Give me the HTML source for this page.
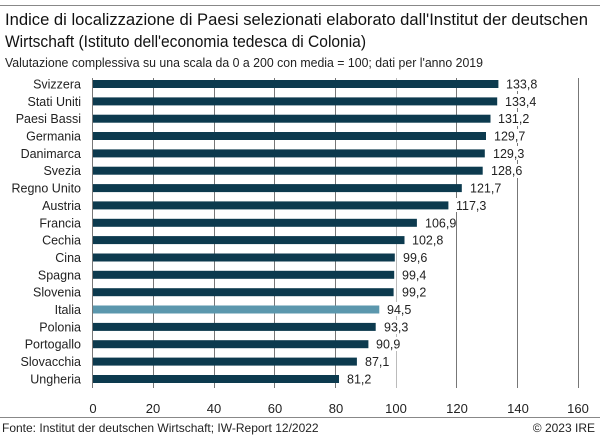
<!DOCTYPE html>
<html><head><meta charset="utf-8"><style>
html,body{margin:0;padding:0;background:#fff}
svg{display:block;font-family:"Liberation Sans",sans-serif}
</style></head><body>
<svg width="600" height="443" viewBox="0 0 600 443" xmlns="http://www.w3.org/2000/svg">
<rect width="600" height="443" fill="#fff"/>
<line x1="0" y1="5.5" x2="600" y2="5.5" stroke="#888" stroke-width="1"/>
<text x="5" y="25" font-size="17" fill="#111" textLength="583" lengthAdjust="spacingAndGlyphs">Indice di localizzazione di Paesi selezionati elaborato dall'Institut der deutschen</text>
<text x="5" y="47" font-size="17" fill="#111" textLength="361" lengthAdjust="spacingAndGlyphs">Wirtschaft (Istituto dell'economia tedesca di Colonia)</text>
<text x="5" y="67" font-size="13" fill="#222" textLength="478" lengthAdjust="spacingAndGlyphs">Valutazione complessiva su una scala da 0 a 200 con media = 100; dati per l'anno 2019</text>
<g stroke="#777" stroke-width="1">
<line x1="92.5" y1="78" x2="92.5" y2="388"/>
<line x1="153.5" y1="78" x2="153.5" y2="388"/>
<line x1="214.5" y1="78" x2="214.5" y2="388"/>
<line x1="274.5" y1="78" x2="274.5" y2="388"/>
<line x1="335.5" y1="78" x2="335.5" y2="388"/>
<line x1="396.5" y1="78" x2="396.5" y2="388" stroke="#bbb"/>
<line x1="456.5" y1="78" x2="456.5" y2="388"/>
<line x1="517.5" y1="78" x2="517.5" y2="388"/>
<line x1="578.5" y1="78" x2="578.5" y2="388"/>
</g>
<g font-size="12.5" fill="#222" text-anchor="end">
<text x="81" y="88.5">Svizzera</text>
<text x="81" y="106">Stati Uniti</text>
<text x="81" y="123">Paesi Bassi</text>
<text x="81" y="140.5">Germania</text>
<text x="81" y="158">Danimarca</text>
<text x="81" y="175">Svezia</text>
<text x="81" y="192.5">Regno Unito</text>
<text x="81" y="210">Austria</text>
<text x="81" y="227.5">Francia</text>
<text x="81" y="244.5">Cechia</text>
<text x="81" y="262">Cina</text>
<text x="81" y="279.5">Spagna</text>
<text x="81" y="296.5">Slovenia</text>
<text x="81" y="314">Italia</text>
<text x="81" y="331.5">Polonia</text>
<text x="81" y="348.5">Portogallo</text>
<text x="81" y="366">Slovacchia</text>
<text x="81" y="383.5">Ungheria</text>
</g>
<g fill="#0c3a4e">
<rect x="93" y="80" width="405.4" height="8"/>
<rect x="93" y="97.4" width="404.2" height="8"/>
<rect x="93" y="114.7" width="397.5" height="8"/>
<rect x="93" y="132" width="393" height="8"/>
<rect x="93" y="149.4" width="391.8" height="8"/>
<rect x="93" y="166.7" width="389.7" height="8"/>
<rect x="93" y="184.1" width="368.8" height="8"/>
<rect x="93" y="201.4" width="355.4" height="8"/>
<rect x="93" y="218.8" width="323.9" height="8"/>
<rect x="93" y="236.1" width="311.5" height="8"/>
<rect x="93" y="253.5" width="301.8" height="8"/>
<rect x="93" y="270.8" width="301.2" height="8"/>
<rect x="93" y="288.2" width="300.6" height="8"/>
<rect x="93" y="305.5" width="286.3" height="8" fill="#5b97ad"/>
<rect x="93" y="322.9" width="282.7" height="8"/>
<rect x="93" y="340.2" width="275.4" height="8"/>
<rect x="93" y="357.6" width="263.9" height="8"/>
<rect x="93" y="375" width="246" height="8"/>
</g>
<g fill="#fff">
<rect x="501" y="77" width="34" height="14"/>
<rect x="500" y="94" width="34" height="14"/>
<rect x="493" y="112" width="34" height="14"/>
<rect x="489" y="129" width="34" height="14"/>
<rect x="488" y="146" width="34" height="14"/>
<rect x="486" y="164" width="34" height="14"/>
<rect x="465" y="181" width="34" height="14"/>
<rect x="451" y="198" width="34" height="14"/>
<rect x="420" y="216" width="34" height="14"/>
<rect x="407" y="233" width="34" height="14"/>
<rect x="398" y="250" width="30" height="14"/>
<rect x="397" y="268" width="30" height="14"/>
<rect x="397" y="285" width="30" height="14"/>
<rect x="382" y="302" width="30" height="14"/>
<rect x="379" y="320" width="30" height="14"/>
<rect x="371" y="337" width="30" height="14"/>
<rect x="360" y="354" width="30" height="14"/>
<rect x="342" y="372" width="30" height="14"/>
</g>
<g font-size="12.5" fill="#222">
<text x="506" y="88.5">133,8</text>
<text x="505" y="106">133,4</text>
<text x="498" y="123">131,2</text>
<text x="494" y="140.5">129,7</text>
<text x="493" y="158">129,3</text>
<text x="491" y="175">128,6</text>
<text x="470" y="192.5">121,7</text>
<text x="456" y="210">117,3</text>
<text x="425" y="227.5">106,9</text>
<text x="412" y="244.5">102,8</text>
<text x="403" y="262">99,6</text>
<text x="402" y="279.5">99,4</text>
<text x="402" y="296.5">99,2</text>
<text x="387" y="314">94,5</text>
<text x="384" y="331.5">93,3</text>
<text x="376" y="348.5">90,9</text>
<text x="365" y="366">87,1</text>
<text x="347" y="383.5">81,2</text>
</g>
<g font-size="13" fill="#222" text-anchor="middle">
<text x="93" y="413">0</text><text x="153" y="413">20</text><text x="214" y="413">40</text>
<text x="275" y="413">60</text><text x="336" y="413">80</text><text x="396" y="413">100</text>
<text x="457" y="413">120</text><text x="518" y="413">140</text><text x="578" y="413">160</text>
</g>
<line x1="0" y1="417.5" x2="600" y2="417.5" stroke="#888"/>
<text x="2" y="432" font-size="12" fill="#222">Fonte: Institut der deutschen Wirtschaft; IW-Report 12/2022</text>
<text x="595" y="432" font-size="12" fill="#222" text-anchor="end">© 2023 IRE</text>
</svg>
</body></html>
